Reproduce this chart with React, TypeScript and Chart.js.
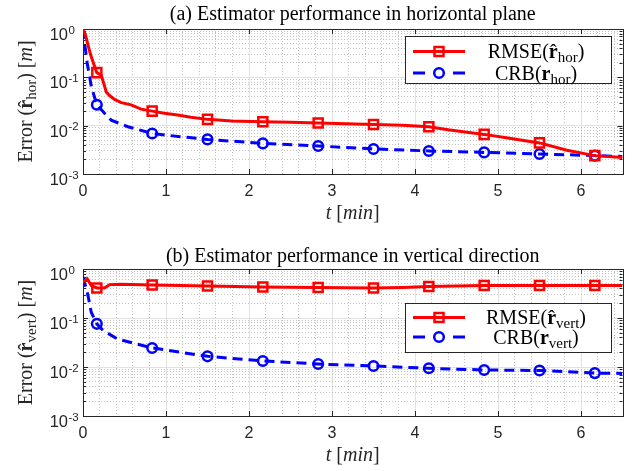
import React, { useEffect, useRef } from 'react';
import { Chart, registerables } from 'chart.js';
Chart.register(...registerables);

// ---------- data ----------
const rmseHorT = [0, 0.03, 0.06, 0.09, 0.12, 0.1667, 0.22, 0.25, 0.28, 0.32, 0.38, 0.46, 0.58, 0.7, 0.8333, 0.98, 1.14, 1.3, 1.5, 1.79, 2.1667, 2.5, 2.8333, 3.1667, 3.5, 3.85, 4.1667, 4.4, 4.8333, 5.1, 5.5, 5.83, 6.1667, 6.5];
const rmseHorV = [1.0, 0.75, 0.47, 0.3, 0.21, 0.125, 0.11, 0.075, 0.05, 0.042, 0.035, 0.03, 0.027, 0.022, 0.02, 0.018, 0.0166, 0.015, 0.0135, 0.0125, 0.012, 0.0117, 0.0114, 0.011, 0.0106, 0.0102, 0.0095, 0.0082, 0.0066, 0.0056, 0.0044, 0.0031, 0.0024, 0.0022];

const crbHorT = [0, 0.02, 0.05, 0.1, 0.1667, 0.26, 0.34, 0.54, 0.8333, 1.17, 1.5, 2.1667, 2.8333, 3.5, 4.1667, 4.8333, 5.5, 6.1667, 6.5];
const crbHorV = [1.0, 0.5, 0.2, 0.065, 0.027, 0.018, 0.013, 0.0095, 0.0069, 0.0059, 0.0052, 0.0043, 0.0038, 0.0033, 0.003, 0.0028, 0.0026, 0.0024, 0.0023];

const rmseVertT = [0, 0.05, 0.1, 0.1667, 0.26, 0.32, 0.46, 0.8333, 1.5, 2.1667, 2.8333, 3.5, 3.85, 4.1667, 4.8333, 5.5, 6.1667, 6.5];
const rmseVertV = [0.54, 0.63, 0.46, 0.41, 0.41, 0.48, 0.49, 0.47, 0.45, 0.43, 0.42, 0.41, 0.42, 0.44, 0.46, 0.46, 0.46, 0.46];

const crbVertT = [0, 0.03, 0.06, 0.1, 0.1667, 0.24, 0.42, 0.8333, 1.5, 2.1667, 2.8333, 3.5, 4.1667, 4.8333, 5.5, 6.1667, 6.5];
const crbVertV = [0.69, 0.45, 0.29, 0.13, 0.076, 0.056, 0.037, 0.0245, 0.0165, 0.0133, 0.0115, 0.0105, 0.0094, 0.0087, 0.0085, 0.0075, 0.0074];

const markerTimes = [0.1667, 0.8333, 1.5, 2.1667, 2.8333, 3.5, 4.1667, 4.8333, 5.5, 6.1667];

const xTickLabels = ['0', '1', '2', '3', '4', '5', '6'];
const xMinorStep = 0.2;
const yDecadeExps = [-3, -2, -1, 0];
const yTickExpLabels = ['-3', '-2', '-1', '0'];
const yMinorMantissas = [2, 3, 4, 5, 6, 7, 8, 9];

const titleTop = '(a) Estimator performance in horizontal plane';
const titleBottom = '(b) Estimator performance in vertical direction';

// ---------- styling ----------
const SERIF = '"Liberation Serif", "Times New Roman", serif';
const SANS = '"Liberation Sans", Arial, sans-serif';
const F = `20px ${SERIF}`;
const FB = `bold 20px ${SERIF}`;
const FI = `italic 20px ${SERIF}`;
const FS = `15px ${SERIF}`;
const AX = '#262626';
const MAJOR = '#e2e2e2';
const MINOR = '#c4c4c4';
const RED = '#ff0000';
const BLUE = '#0000ff';

type Seg = { t: string; f: string; dy?: number; hat?: boolean };

function drawRich(ctx: CanvasRenderingContext2D, segs: Seg[], x: number, y: number, align: 'left' | 'center' | 'right') {
  let total = 0;
  const widths = segs.map((s) => {
    ctx.font = s.f;
    const w = ctx.measureText(s.t).width;
    total += w;
    return w;
  });
  let cx = align === 'center' ? x - total / 2 : align === 'right' ? x - total : x;
  ctx.textBaseline = 'alphabetic';
  segs.forEach((s, i) => {
    ctx.font = s.f;
    ctx.textAlign = 'left';
    ctx.fillText(s.t, cx, y + (s.dy || 0));
    if (s.hat) {
      ctx.font = F;
      ctx.textAlign = 'center';
      ctx.fillText('\u02C6', cx + widths[i] / 2, y + 1);
      ctx.textAlign = 'left';
    }
    cx += widths[i];
  });
}

const isInt = (v: number) => Math.abs(v - Math.round(v)) < 1e-6;
const isDecade = (v: number) => {
  const l = Math.log10(v);
  return Math.abs(l - Math.round(l)) < 1e-6;
};
const isMarker = (x: number) => markerTimes.some((m) => Math.abs(m - x) < 1e-6);

const xGridValues: number[] = [];
for (let v = 0; v <= 6.5 - 1e-9; v += xMinorStep) xGridValues.push(Math.round(v * 10) / 10);
const yGridValues: number[] = [];
yDecadeExps.forEach((e) => {
  yGridValues.push(Math.pow(10, e));
  if (e < 0) yMinorMantissas.forEach((m) => yGridValues.push(m * Math.pow(10, e)));
});

type PanelCfg = {
  height: number;
  plotTop: number;
  xScaleH: number;
  title: string;
  titleBase: number;
  sub: string;
  legendBox: [number, number, number, number];
  legendRows: [number, number];
  series: { t: number[]; v: number[]; color: string; dash: number[]; style: 'rect' | 'circle' }[];
};

function makeChart(canvas: HTMLCanvasElement, cfg: PanelCfg) {
  const hatR = (): Seg[] => [
    { t: 'r', f: FB, hat: true },
    { t: cfg.sub, f: FS, dy: 4 },
  ];
  const plainR = (): Seg[] => [
    { t: 'r', f: FB },
    { t: cfg.sub, f: FS, dy: 4 },
  ];
  const yTitle: Seg[] = [{ t: 'Error (', f: F }, ...hatR(), { t: ') [', f: F }, { t: 'm', f: FI }, { t: ']', f: F }];
  const xTitle: Seg[] = [{ t: 't', f: FI }, { t: ' [', f: F }, { t: 'min', f: FI }, { t: ']', f: F }];
  const legendLabels: Seg[][] = [
    [{ t: 'RMSE(', f: F }, ...hatR(), { t: ')', f: F }],
    [{ t: 'CRB(', f: F }, ...plainR(), { t: ')', f: F }],
  ];

  const decor = {
    id: 'decor',
    beforeDatasetsDraw(chart: any) {
      const ctx = chart.ctx as CanvasRenderingContext2D;
      const a = chart.chartArea;
      const xs = chart.scales.x;
      const ys = chart.scales.y;
      ctx.save();
      ctx.strokeStyle = AX;
      ctx.lineWidth = 1;
      ctx.beginPath();
      xTickLabels.forEach((_, i) => {
        const px = Math.round(xs.getPixelForValue(i)) + 0.5;
        ctx.moveTo(px, a.bottom);
        ctx.lineTo(px, a.bottom - 5);
        ctx.moveTo(px, a.top);
        ctx.lineTo(px, a.top + 5);
      });
      yGridValues.forEach((v) => {
        const py = Math.round(ys.getPixelForValue(v)) + 0.5;
        const len = isDecade(v) ? 5 : 3;
        ctx.moveTo(a.left, py);
        ctx.lineTo(a.left + len, py);
        ctx.moveTo(a.right, py);
        ctx.lineTo(a.right - len, py);
      });
      ctx.stroke();
      ctx.strokeRect(Math.round(a.left) + 0.5, Math.round(a.top) + 0.5, Math.round(a.right - a.left), Math.round(a.bottom - a.top));
      ctx.restore();
    },
    afterDraw(chart: any) {
      const ctx = chart.ctx as CanvasRenderingContext2D;
      const a = chart.chartArea;
      const ys = chart.scales.y;
      ctx.save();
      // y tick labels with superscripts
      ctx.fillStyle = AX;
      yDecadeExps.forEach((e, i) => {
        const py = ys.getPixelForValue(Math.pow(10, e));
        ctx.font = `16.5px ${SANS}`;
        ctx.textAlign = 'right';
        ctx.textBaseline = 'middle';
        ctx.fillText('10', 68, py + 6.5);
        ctx.font = `11.5px ${SANS}`;
        ctx.textAlign = 'left';
        ctx.fillText(yTickExpLabels[i], 68.5, py + 1.5);
      });
      // title
      ctx.fillStyle = '#000';
      ctx.font = F;
      ctx.textAlign = 'center';
      ctx.textBaseline = 'alphabetic';
      ctx.fillText(cfg.title, (a.left + a.right) / 2, cfg.titleBase);
      // x title
      ctx.fillStyle = AX;
      drawRich(ctx, xTitle, (a.left + a.right) / 2, a.bottom + 44.5, 'center');
      // y title
      ctx.save();
      ctx.translate(25, (a.top + a.bottom) / 2);
      ctx.rotate(-Math.PI / 2);
      drawRich(ctx, yTitle, 0, 6.5, 'center');
      ctx.restore();
      // legend
      const [lx1, ly1, lx2, ly2] = cfg.legendBox;
      ctx.fillStyle = '#fff';
      ctx.fillRect(lx1, ly1, lx2 - lx1, ly2 - ly1);
      ctx.strokeStyle = AX;
      ctx.lineWidth = 1;
      ctx.strokeRect(lx1 + 0.5, ly1 + 0.5, lx2 - lx1, ly2 - ly1);
      cfg.series.forEach((s, i) => {
        const ry = cfg.legendRows[i];
        ctx.strokeStyle = s.color;
        ctx.lineWidth = 3;
        ctx.beginPath();
        if (s.dash.length) {
          ctx.moveTo(413, ry);
          ctx.lineTo(425, ry);
          ctx.moveTo(453, ry);
          ctx.lineTo(465, ry);
        } else {
          ctx.moveTo(413, ry);
          ctx.lineTo(465, ry);
        }
        ctx.stroke();
        ctx.lineWidth = 2.5;
        ctx.beginPath();
        if (s.style === 'rect') ctx.rect(439 - 4.5, ry - 4.5, 9, 9);
        else ctx.arc(439, ry, 4.8, 0, Math.PI * 2);
        ctx.stroke();
        ctx.fillStyle = '#000';
        drawRich(ctx, legendLabels[i], 536, ry + 6.5, 'center');
      });
      ctx.restore();
    },
  };

  return new Chart(canvas, {
    type: 'line',
    data: {
      datasets: cfg.series.map((s) => ({
        data: s.t.map((t, i) => ({ x: t, y: s.v[i] })),
        borderColor: s.color,
        borderWidth: 3,
        borderDash: s.dash,
        tension: 0,
        fill: false,
        pointStyle: s.style,
        pointRadius: (c: any) => (c.raw && isMarker(c.raw.x) ? (s.style === 'rect' ? 6.4 : 4.8) : 0),
        pointBorderWidth: 2.5,
        pointBorderColor: s.color,
        pointBackgroundColor: 'rgba(0,0,0,0)',
      })),
    },
    options: {
      responsive: false,
      animation: false,
      events: [],
      layout: { padding: { top: cfg.plotTop, left: 0, right: 15.5, bottom: 0 } },
      plugins: { legend: { display: false }, tooltip: { enabled: false }, title: { display: false } },
      scales: {
        x: {
          type: 'linear',
          min: 0,
          max: 6.5,
          afterBuildTicks: (s: any) => {
            s.ticks = xGridValues.map((v) => ({ value: v }));
          },
          afterFit: (s: any) => {
            s.height = cfg.xScaleH;
          },
          grid: {
            drawTicks: false,
            lineWidth: 1,
            color: (c: any) => (c.tick && isInt(c.tick.value) ? MAJOR : MINOR),
          },
          border: { display: false, dash: (c: any) => (c.tick && isInt(c.tick.value) ? [] : [1, 2]) },
          ticks: {
            autoSkip: false,
            maxRotation: 0,
            padding: 8,
            color: AX,
            font: { family: SANS, size: 16 },
            callback: (v: any) => (isInt(Number(v)) ? xTickLabels[Math.round(Number(v))] : ''),
          },
        },
        y: {
          type: 'logarithmic',
          min: 0.001,
          max: 1,
          afterBuildTicks: (s: any) => {
            s.ticks = yGridValues.map((v) => ({ value: v }));
          },
          afterFit: (s: any) => {
            s.width = 83;
          },
          grid: {
            drawTicks: false,
            lineWidth: 1,
            color: (c: any) => (c.tick && isDecade(c.tick.value) ? MAJOR : MINOR),
          },
          border: { display: false, dash: (c: any) => (c.tick && isDecade(c.tick.value) ? [] : [1, 2]) },
          ticks: { display: false },
        },
      },
    },
    plugins: [decor],
  } as any);
}

const topCfg: PanelCfg = {
  height: 235,
  plotTop: 29,
  xScaleH: 61,
  title: titleTop,
  titleBase: 19.6,
  sub: 'hor',
  legendBox: [405, 36, 611, 83],
  legendRows: [51.5, 73],
  series: [
    { t: rmseHorT, v: rmseHorV, color: RED, dash: [], style: 'rect' },
    { t: crbHorT, v: crbHorV, color: BLUE, dash: [10, 6], style: 'circle' },
  ],
};

const bottomCfg: PanelCfg = {
  height: 236,
  plotTop: 34,
  xScaleH: 55,
  title: titleBottom,
  titleBase: 27,
  sub: 'vert',
  legendBox: [405, 68, 611, 117],
  legendRows: [82.5, 102],
  series: [
    { t: rmseVertT, v: rmseVertV, color: RED, dash: [], style: 'rect' },
    { t: crbVertT, v: crbVertV, color: BLUE, dash: [10, 6], style: 'circle' },
  ],
};

function Panel({ cfg, top }: { cfg: PanelCfg; top: number }) {
  const ref = useRef<HTMLCanvasElement>(null);
  useEffect(() => {
    if (!ref.current) return;
    const ch = makeChart(ref.current, cfg);
    return () => ch.destroy();
  }, [cfg]);
  return (
    <canvas
      ref={ref}
      width={638}
      height={cfg.height}
      style={{ position: 'absolute', left: 0, top, width: 638, height: cfg.height, display: 'block' }}
    />
  );
}

export default function App() {
  return (
    <div style={{ position: 'fixed', left: 0, top: 0, width: 638, height: 471, background: '#fff', overflow: 'hidden' }}>
      <Panel cfg={topCfg} top={0} />
      <Panel cfg={bottomCfg} top={235} />
    </div>
  );
}
